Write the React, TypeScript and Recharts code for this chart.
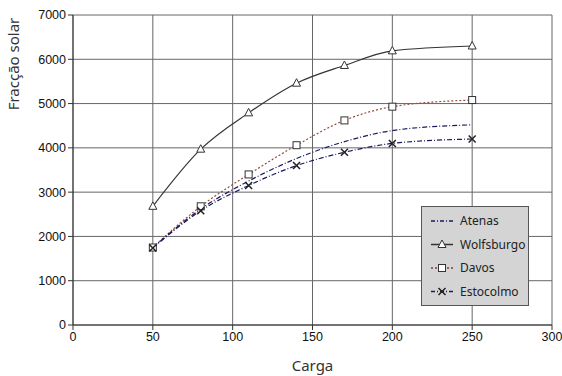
import React from 'react';
import { LineChart, Line, XAxis, YAxis, CartesianGrid } from 'recharts';

const cargas = [50, 80, 110, 140, 170, 200, 250];
const atenas = [1750, 2620, 3250, 3760, 4140, 4390, 4520];
const wolfsburgo = [2680, 3970, 4790, 5460, 5860, 6190, 6300];
const davos = [1750, 2680, 3400, 4060, 4620, 4930, 5080];
const estocolmo = [1740, 2580, 3150, 3600, 3900, 4100, 4200];
const xTicks = [0, 50, 100, 150, 200, 250, 300];
const yTicks = [0, 1000, 2000, 3000, 4000, 5000, 6000, 7000];

const data = cargas.map((c, i) => ({
  carga: c,
  Atenas: atenas[i],
  Wolfsburgo: wolfsburgo[i],
  Davos: davos[i],
  Estocolmo: estocolmo[i],
}));

const Tri = (p: any) => {
  const { cx, cy } = p;
  if (cx == null || cy == null) return null;
  return <path d={`M${cx},${cy - 4.5} L${cx + 4},${cy + 3} L${cx - 4},${cy + 3} Z`} fill="#fff" stroke="#333" strokeWidth={1} />;
};
const Sq = (p: any) => {
  const { cx, cy } = p;
  if (cx == null || cy == null) return null;
  return <rect x={cx - 3.5} y={cy - 3.5} width={7} height={7} fill="#fff" stroke="#333" strokeWidth={1} />;
};
const Xm = (p: any) => {
  const { cx, cy } = p;
  if (cx == null || cy == null) return null;
  return <path d={`M${cx - 3.5},${cy - 3.5} L${cx + 3.5},${cy + 3.5} M${cx + 3.5},${cy - 3.5} L${cx - 3.5},${cy + 3.5}`} stroke="#222" strokeWidth={1.5} />;
};

const font = "'Liberation Sans', Arial, sans-serif";
const labelFont = "'Noto Sans', 'DejaVu Sans', sans-serif";

const legendItems = [
  { name: 'Atenas', color: '#1a1a5e', dash: '4 2 1 2', marker: '' },
  { name: 'Wolfsburgo', color: '#333', dash: undefined, marker: 'tri' },
  { name: 'Davos', color: '#8b3a3a', dash: '2 2', marker: 'sq' },
  { name: 'Estocolmo', color: '#1a1a5e', dash: '4 2 1 2', marker: 'x' },
];

const LegendBox = () => (
  <div style={{ position: 'absolute', left: 421, top: 206, width: 108, height: 100, background: '#d4d4d4', border: '1px solid #555', boxSizing: 'border-box' }}>
    <svg width={106} height={98} style={{ display: 'block' }}>
      {legendItems.map((it, i) => {
        const y = 14 + i * 23.5;
        return (
          <g key={it.name}>
            <line x1={9} x2={31} y1={y} y2={y} stroke={it.color} strokeWidth={1.5} strokeDasharray={it.dash} />
            {it.marker === 'tri' && <Tri cx={20} cy={y} />}
            {it.marker === 'sq' && <Sq cx={20} cy={y} />}
            {it.marker === 'x' && <Xm cx={20} cy={y} />}
            <text x={38} y={y + 4} fontSize={12} fontFamily={labelFont} fill="#222">{it.name}</text>
          </g>
        );
      })}
    </svg>
  </div>
);

const YLabel = (p: any) => {
  const vb = p.viewBox || { x: 13, y: 15 };
  const x = vb.x + 6;
  const y = 64;
  return (
    <text x={x} y={y} transform={`rotate(-90 ${x} ${y})`} textAnchor="middle" fill="#333" fontSize={15} fontFamily={labelFont}>
      Fracção solar
    </text>
  );
};

export default function App() {
  return (
    <div style={{ position: 'absolute', left: 0, top: 0, width: 562, height: 376, background: '#fff' }}>
      <LineChart width={562} height={376} data={data} margin={{ top: 15, right: 10, bottom: 21, left: 13 }}>
        <CartesianGrid stroke="#666" strokeWidth={1} />
        <XAxis
          dataKey="carga"
          type="number"
          domain={[0, 300]}
          ticks={xTicks}
          height={30}
          stroke="#333"
          tickSize={5}
          tick={{ fill: '#111', fontSize: 12.5, fontFamily: font }}
          label={{ value: 'Carga', position: 'insideBottom', offset: -16, fill: '#333', fontSize: 15, fontFamily: labelFont }}
        />
        <YAxis
          type="number"
          domain={[0, 7000]}
          ticks={yTicks}
          width={60}
          stroke="#333"
          tickSize={5}
          tick={{ fill: '#111', fontSize: 12.5, fontFamily: font }}
          label={<YLabel />}
        />
        <Line dataKey="Wolfsburgo" type="monotone" stroke="#333" strokeWidth={1.2} dot={<Tri />} isAnimationActive={false} />
        <Line dataKey="Davos" type="monotone" stroke="#9a4a3a" strokeWidth={1.2} strokeDasharray="2 2" dot={<Sq />} isAnimationActive={false} />
        <Line dataKey="Atenas" type="monotone" stroke="#1a1a5e" strokeWidth={1.2} strokeDasharray="5 2 1 2" dot={false} isAnimationActive={false} />
        <Line dataKey="Estocolmo" type="monotone" stroke="#1a1a5e" strokeWidth={1.2} strokeDasharray="5 2 1 2" dot={<Xm />} isAnimationActive={false} />
      </LineChart>
      <LegendBox />
    </div>
  );
}
